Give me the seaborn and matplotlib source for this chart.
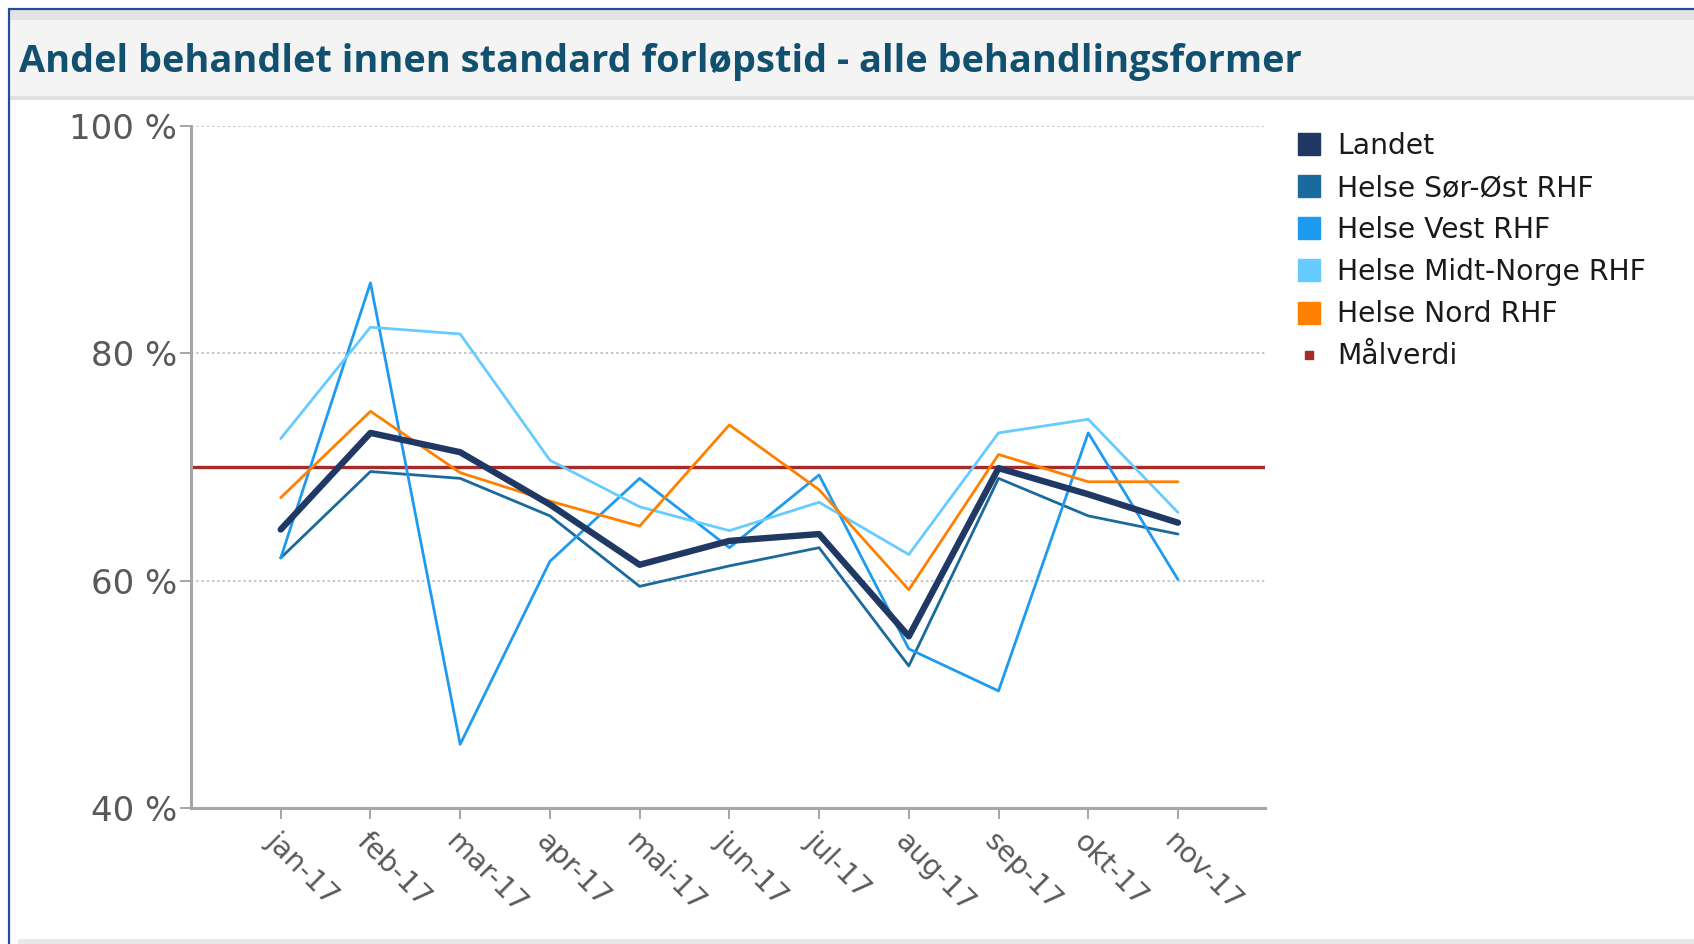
import numpy as np
import pandas as pd
import matplotlib
matplotlib.use("Agg")
import matplotlib.pyplot as plt
import seaborn as sns
from matplotlib.lines import Line2D
from matplotlib.patches import Rectangle

# ---------------- data ----------------
months = ["jan-17", "feb-17", "mar-17", "apr-17", "mai-17", "jun-17",
          "jul-17", "aug-17", "sep-17", "okt-17", "nov-17"]
landet = [64.5, 73.0, 71.3, 66.7, 61.4, 63.5, 64.1, 55.1, 69.9, 67.6, 65.1]
sor_ost = [62.0, 69.6, 69.0, 65.7, 59.5, 61.3, 62.9, 52.5, 69.0, 65.7, 64.1]
vest = [62.0, 86.2, 45.6, 61.7, 69.0, 62.9, 69.3, 54.0, 50.3, 73.0, 60.1]
midt_norge = [72.5, 82.3, 81.7, 70.6, 66.5, 64.4, 66.9, 62.3, 73.0, 74.2, 66.0]
nord = [67.3, 74.9, 69.5, 67.0, 64.8, 73.7, 68.0, 59.2, 71.1, 68.7, 68.7]
malverdi = 70.0

series_names = ["Landet", "Helse Sør-Øst RHF", "Helse Vest RHF",
                "Helse Midt-Norge RHF", "Helse Nord RHF"]
series_values = [landet, sor_ost, vest, midt_norge, nord]
colors = ["#1f3864", "#1b6a9e", "#1e9bf0", "#66ccff", "#ff8000"]
widths = [4.6, 2.0, 2.0, 2.0, 2.0]
target_color = "#a52a2a"

frames = []
for name, vals in zip(series_names, series_values):
    frames.append(pd.DataFrame({"month": months, "value": vals, "serie": name}))
df = pd.concat(frames, ignore_index=True)

# ---------------- figure ----------------
sns.set_style("white")
plt.rcParams["font.family"] = ["DejaVu Sans"]

W, H = 1694, 944
fig = plt.figure(figsize=(W / 100, H / 100), dpi=100)
fig.patch.set_facecolor("white")

def fx(px):
    return px / W

def fy(py):
    return 1 - py / H

# header band
fig.add_artist(Rectangle((fx(10), fy(20)), fx(W), fy(10) - fy(20),
                         transform=fig.transFigure, color="#e4e4e4", lw=0))
fig.add_artist(Rectangle((fx(10), fy(96)), fx(W), fy(20) - fy(96),
                         transform=fig.transFigure, color="#f4f4f4", lw=0))
fig.add_artist(Rectangle((fx(10), fy(100)), fx(W), fy(96) - fy(100),
                         transform=fig.transFigure, color="#e0e0e0", lw=0))
# bottom grey line
fig.add_artist(Rectangle((fx(18), fy(944)), fx(W), fy(939) - fy(944),
                         transform=fig.transFigure, color="#e8e8e8", lw=0))
# blue frame top & left
fig.add_artist(Line2D([fx(9), 1], [fy(9), fy(9)], transform=fig.transFigure,
                      color="#1f4e9c", lw=1.6))
fig.add_artist(Line2D([fx(9), fx(9)], [fy(9), 0], transform=fig.transFigure,
                      color="#1f4e9c", lw=1.6))

fig.text(fx(19), fy(62), "Andel behandlet innen standard forløpstid - alle behandlingsformer",
         fontsize=27.3, fontweight="bold", family=["Open Sans", "DejaVu Sans"],
         color="#11506e", ha="left", va="center")

ax = fig.add_axes([fx(191), fy(808), fx(1265) - fx(191), fy(126) - fy(808)])

for name, col, lw in zip(series_names, colors, widths):
    sub = df[df["serie"] == name]
    sns.lineplot(data=sub, x="month", y="value", ax=ax, color=col, lw=lw,
                 sort=False, zorder=3 if name != "Landet" else 4)

ax.axhline(malverdi, color=target_color, lw=2.4, zorder=2)

ax.set_xlim(-1, len(months) - 0.03)
ax.set_ylim(40, 100)
ax.set_yticks([40, 60, 80, 100])
ax.set_yticklabels([f"{v} %" for v in [40, 60, 80, 100]])
ax.set_xticks(range(len(months)))
ax.set_xticklabels(months, rotation=-45, ha="left", rotation_mode="anchor")
ax.set_xlabel("")
ax.set_ylabel("")

for v in [60, 80, 100]:
    ax.axhline(v, color="#c4c4c4", lw=1.4, ls=(0, (1.2, 1.5)), zorder=1)

for s in ["top", "right"]:
    ax.spines[s].set_visible(False)
for s in ["left", "bottom"]:
    ax.spines[s].set_color("#a6a6a6")
    ax.spines[s].set_linewidth(2.2)

ax.tick_params(axis="y", labelsize=24.5, labelcolor="#595959", color="#a6a6a6",
               length=8, width=1.4, pad=2, left=True)
ax.tick_params(axis="x", labelsize=20.5, labelcolor="#595959", color="#a6a6a6",
               length=8, width=1.4, pad=6, bottom=True)

# legend
handles = [Line2D([], [], ls="", marker="s", markersize=16, color=c) for c in colors]
handles.append(Line2D([], [], ls="", marker="s", markersize=6, color=target_color))
labels = series_names + ["Målverdi"]
leg = fig.legend(handles, labels, loc="upper left",
                 bbox_to_anchor=(fx(1298), fy(132)), frameon=False,
                 fontsize=20.3, handlelength=0.8, handletextpad=0.6,
                 labelspacing=0.5, borderaxespad=0, borderpad=0)
for t in leg.get_texts():
    t.set_color("#1a1a1a")

fig.savefig("out.png", dpi=100, facecolor="white")
